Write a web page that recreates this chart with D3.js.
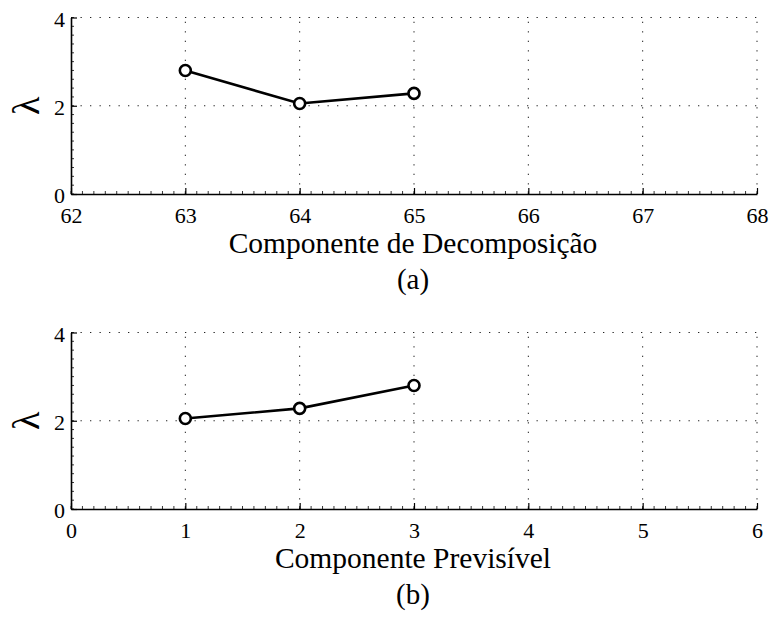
<!DOCTYPE html>
<html>
<head>
<meta charset="utf-8">
<script src="https://cdn.jsdelivr.net/npm/d3@7"></script>
<style>
  body { margin: 0; background: #fff; }
</style>
</head>
<body>
<svg id="chart" width="772" height="617"></svg>
<script>
// panel (a)
const componentsA = [63, 64, 65];
const lambdaA = [2.8, 2.05, 2.28];
const xTicksA = [62, 63, 64, 65, 66, 67, 68];

// panel (b)
const componentsB = [1, 2, 3];
const lambdaB = [2.05, 2.28, 2.8];
const xTicksB = [0, 1, 2, 3, 4, 5, 6];

const yTicks = [0, 2, 4];

const serif = '"Liberation Serif", "Times New Roman", serif';
const svg = d3.select("#chart");

function drawPanel(opts) {
    const { top, bottom, xDomain, xTicks, xs, ys, xLabel, caption } = opts;
    const left = 71, right = 757;

    const x = d3.scaleLinear().domain(xDomain).range([left, right]);
    const y = d3.scaleLinear().domain([0, 4]).range([bottom, top]);

    const g = svg.append("g");

    // dotted grid
    g.selectAll(".gx").data(xTicks.slice(1)).join("line")
        .attr("x1", d => x(d)).attr("x2", d => x(d))
        .attr("y1", bottom).attr("y2", top)
        .attr("stroke", "#222").attr("stroke-width", 1)
        .attr("stroke-dasharray", "1.3,8.2");
    g.selectAll(".gy").data(yTicks.slice(1)).join("line")
        .attr("x1", left).attr("x2", right)
        .attr("y1", d => y(d)).attr("y2", d => y(d))
        .attr("stroke", "#222").attr("stroke-width", 1)
        .attr("stroke-dasharray", "1.3,8.2");

    // minor ticks
    const xMinor = d3.range(xDomain[0], xDomain[1] + 1e-9, 0.1);
    g.selectAll(".mx").data(xMinor).join("line")
        .attr("x1", d => x(d)).attr("x2", d => x(d))
        .attr("y1", bottom).attr("y2", bottom - 3)
        .attr("stroke", "#000").attr("stroke-width", 0.8);
    const yMinor = d3.range(0, 4 + 1e-9, 0.2);
    g.selectAll(".my").data(yMinor).join("line")
        .attr("x1", left).attr("x2", left + 3)
        .attr("y1", d => y(d)).attr("y2", d => y(d))
        .attr("stroke", "#000").attr("stroke-width", 0.8);

    // axes
    const xAxis = d3.axisBottom(x).tickValues(xTicks).tickFormat(d3.format("d"))
        .tickSizeInner(-6).tickSizeOuter(0).tickPadding(13);
    g.append("g").attr("transform", `translate(0,${bottom})`).call(xAxis)
        .attr("font-family", serif).attr("font-size", 22)
        .call(a => a.select(".domain").attr("stroke-width", 1.6))
        .call(a => a.selectAll(".tick line").attr("stroke-width", 1.2))
        .call(a => a.selectAll("text").attr("fill", "#000"));

    const yAxis = d3.axisLeft(y).tickValues(yTicks).tickFormat(d3.format("d"))
        .tickSizeInner(-6).tickSizeOuter(0).tickPadding(6);
    g.append("g").attr("transform", `translate(${left},0)`).call(yAxis)
        .attr("font-family", serif).attr("font-size", 22)
        .call(a => a.select(".domain").attr("stroke-width", 1.6))
        .call(a => a.selectAll(".tick line").attr("stroke-width", 1.2))
        .call(a => a.selectAll("text").attr("fill", "#000").attr("dy", "0.4em"));

    // series
    const pts = xs.map((d, i) => [d, ys[i]]);
    g.append("path").datum(pts)
        .attr("d", d3.line().x(d => x(d[0])).y(d => y(d[1])))
        .attr("fill", "none").attr("stroke", "#000").attr("stroke-width", 2.6);
    g.selectAll(".pt").data(pts).join("circle")
        .attr("cx", d => x(d[0])).attr("cy", d => y(d[1])).attr("r", 5.5)
        .attr("fill", "#fff").attr("stroke", "#000").attr("stroke-width", 2.6);

    // labels
    g.append("text")
        .attr("transform", `translate(26,${(top + bottom) / 2}) rotate(-90)`)
        .attr("text-anchor", "middle").attr("dy", "0.35em")
        .attr("font-family", serif).attr("font-size", 38)
        .text("λ");
    g.append("text")
        .attr("x", (left + right) / 2 - 1).attr("y", bottom + 59)
        .attr("text-anchor", "middle")
        .attr("font-family", serif).attr("font-size", 29.5)
        .text(xLabel);
    g.append("text")
        .attr("x", (left + right) / 2 - 1).attr("y", bottom + 95)
        .attr("text-anchor", "middle")
        .attr("font-family", serif).attr("font-size", 29)
        .text(caption);
}

drawPanel({ top: 17.5, bottom: 194, xDomain: [62, 68], xTicks: xTicksA,
    xs: componentsA, ys: lambdaA, xLabel: "Componente de Decomposição", caption: "(a)" });
drawPanel({ top: 332.5, bottom: 509, xDomain: [0, 6], xTicks: xTicksB,
    xs: componentsB, ys: lambdaB, xLabel: "Componente Previsível", caption: "(b)" });
</script>
</body>
</html>
